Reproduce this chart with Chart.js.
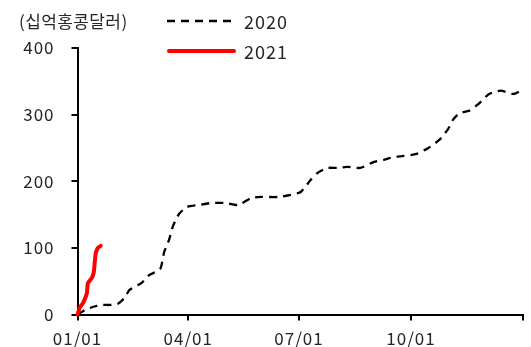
<!DOCTYPE html>
<html>
<head>
<meta charset="utf-8">
<script src="https://cdn.jsdelivr.net/npm/chart.js@4.4.1/dist/chart.umd.min.js"></script>
<style>
  html, body { margin: 0; padding: 0; background: #fff; }
  #wrap { position: relative; width: 531px; height: 347px; font-family: "Noto Sans CJK KR", "Noto Sans", sans-serif; color: #262626; }
  #c { position: absolute; left: 0; top: 0; }
  .txt { position: absolute; line-height: 20px; white-space: nowrap; }
  svg.leg { position: absolute; }
</style>
</head>
<body>
<div id="wrap">
  <canvas id="c" width="531" height="347"></canvas>
  <div class="txt" id="unit" style="left:19px; top:11px; font-size:17px; letter-spacing:0.4px;">(십억홍콩달러)</div>
  <svg class="leg" style="left:160px; top:17px;" width="80" height="8"><line x1="7" y1="4" x2="72" y2="4" stroke="#000" stroke-width="2.3" stroke-dasharray="8,6"/></svg>
  <div class="txt" id="l1" style="left:244px; top:11px; font-size:18px; letter-spacing:1px;">2020</div>
  <svg class="leg" style="left:160px; top:47px;" width="80" height="8"><line x1="9" y1="4" x2="74" y2="4" stroke="#ff0000" stroke-width="4" stroke-linecap="round"/></svg>
  <div class="txt" id="l2" style="left:244px; top:41px; font-size:18px; letter-spacing:1px;">2021</div>
</div>
<script>
// ---- data (x = day of year, y = 십억홍콩달러) ----
const seriesNames = ['2020', '2021'];
const days2020 = [0, 6.1, 10.2, 15.9, 20.7, 26.4, 32.9, 38.6, 42.7, 52.5, 59, 67.9, 71.2, 75.2, 78.5, 83.4, 89.9, 99.6, 110.2, 121.6, 132.2, 142.7, 150.9, 164.7, 175.3, 183.4, 191.5, 197.2, 205.3, 213.5, 221.6, 232.2, 243.6, 251.7, 259.8, 268, 278.5, 288.3, 297.2, 304.3, 308.4, 313.7, 321.9, 330, 338.1, 347.6, 358.5, 366];
const values2020 = [0, 6.8, 9.8, 12.8, 14.3, 14.3, 15.8, 24.8, 36.8, 47.3, 59.3, 68.3, 93.8, 111.9, 132.9, 150.9, 161.4, 164.4, 167.4, 167.4, 164.4, 174.9, 176.4, 176.4, 179.4, 183.9, 201.9, 212.5, 220, 220, 221.5, 220, 229, 232, 236.5, 238, 241, 250, 262, 278, 292, 302, 306, 317, 331, 336, 331, 338];
const days2021 = [0, 0.4, 2, 4.5, 7.7, 8.5, 11.8, 13.4, 14.2, 15, 16.7, 19.1];
const values2021 = [0, 2.3, 11, 17, 32, 47, 55, 64, 79, 92, 100, 103];
const tickDays = [0, 91, 182, 274, 366];
const tickLabels = ['01/01', '04/01', '07/01', '10/01', ''];
const yTicks = [0, 100, 200, 300, 400];

const toPts = (xs, ys) => xs.map((d, i) => ({ x: d, y: ys[i] }));
const FONT = { family: '"Noto Sans CJK KR", "Noto Sans", sans-serif', size: 17 };

const spacing = {
  id: 'spacing',
  beforeDraw(chart) { try { chart.ctx.letterSpacing = '1px'; } catch (e) {} }
};

new Chart(document.getElementById('c'), {
  type: 'line',
  plugins: [spacing],
  data: {
    datasets: [
      { label: seriesNames[0], data: toPts(days2020, values2020), borderColor: '#000', borderWidth: 2.3, borderDash: [8, 6], pointRadius: 0, tension: 0.2, clip: false, order: 2 },
      { label: seriesNames[1], data: toPts(days2021, values2021), borderColor: '#ff0000', borderWidth: 4, pointRadius: 0, tension: 0.1, clip: false, borderCapStyle: 'round', borderJoinStyle: 'round', order: 1 }
    ]
  },
  options: {
    responsive: false,
    animation: false,
    devicePixelRatio: 1,
    layout: { padding: { left: 0, right: 3, top: 48, bottom: 0 } },
    plugins: { legend: { display: false }, tooltip: { enabled: false } },
    scales: {
      x: {
        type: 'linear', min: tickDays[0], max: tickDays[tickDays.length - 1],
        afterBuildTicks: s => { s.ticks = tickDays.map(v => ({ value: v })); },
        afterFit: s => { s.height = 32.5; },
        ticks: { font: FONT, color: '#262626', padding: 8, maxRotation: 0, autoSkip: false,
          callback: v => { const i = tickDays.indexOf(v); return i >= 0 ? tickLabels[i] : ''; } },
        grid: { drawOnChartArea: false, drawTicks: true, tickLength: 6, color: '#000', lineWidth: 2 },
        border: { color: '#000', width: 2 }
      },
      y: {
        min: 0, max: 400,
        afterBuildTicks: s => { s.ticks = yTicks.map(v => ({ value: v })); },
        afterFit: s => { s.width = 77.5; },
        ticks: { font: FONT, color: '#262626', padding: 17 },
        grid: { drawOnChartArea: false, drawTicks: true, tickLength: 6, color: '#000', lineWidth: 2 },
        border: { color: '#000', width: 2 }
      }
    }
  }
});
</script>
</body>
</html>
